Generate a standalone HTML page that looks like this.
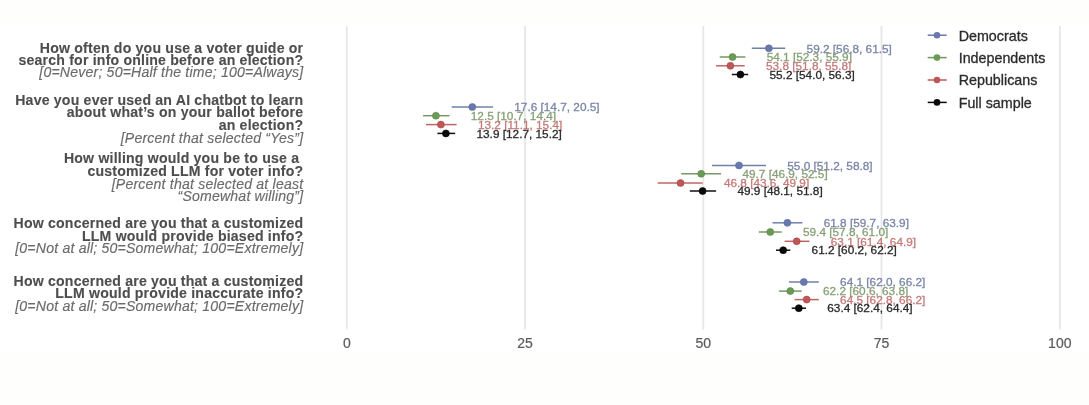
<!DOCTYPE html>
<html><head><meta charset="utf-8"><style>
html,body{margin:0;padding:0;background:#fefefd;}
svg{display:block;filter:blur(0.45px);}
text{font-family:"Liberation Sans",sans-serif;}
.q{font-size:14.1px;font-weight:bold;fill:#4e4e4e;stroke:#4e4e4e;stroke-width:0.12px;letter-spacing:0.2px;}
.s{font-size:14.1px;font-style:italic;fill:#6b6b6b;stroke:#6b6b6b;stroke-width:0.15px;letter-spacing:0.19px;}
.t{font-size:14px;fill:#5a5a5a;stroke:#5a5a5a;stroke-width:0.2px;}
.lg{font-size:14.3px;fill:#2b2b2b;stroke:#2b2b2b;stroke-width:0.3px;}
.d{font-size:11.8px;stroke-width:0.3px;}
</style></head><body>
<svg width="1089" height="405" viewBox="0 0 1089 405">
<rect x="0" y="0" width="1089" height="405" fill="#fefefd"/>
<rect x="0" y="24" width="1089" height="328" fill="#ffffff"/>

<line x1="346.8" y1="26" x2="346.8" y2="329.6" stroke="#e7e7e7" stroke-width="1.8"/>
<text class="t" x="346.8" y="348.2" text-anchor="middle">0</text>
<line x1="525.0" y1="26" x2="525.0" y2="329.6" stroke="#e7e7e7" stroke-width="1.8"/>
<text class="t" x="525.0" y="348.2" text-anchor="middle">25</text>
<line x1="703.3" y1="26" x2="703.3" y2="329.6" stroke="#e7e7e7" stroke-width="1.8"/>
<text class="t" x="703.3" y="348.2" text-anchor="middle">50</text>
<line x1="881.5" y1="26" x2="881.5" y2="329.6" stroke="#e7e7e7" stroke-width="1.8"/>
<text class="t" x="881.5" y="348.2" text-anchor="middle">75</text>
<line x1="1059.8" y1="26" x2="1059.8" y2="329.6" stroke="#e7e7e7" stroke-width="1.8"/>
<text class="t" x="1059.8" y="348.2" text-anchor="middle">100</text>
<line x1="751.8" y1="48.3" x2="785.3" y2="48.3" stroke="#7080aa" stroke-width="1.5"/>
<circle cx="768.9" cy="48.3" r="3.5" fill="#6878ad" stroke="#5b6b9c" stroke-width="0.6"/>
<text class="d" x="806.6" y="52.5" fill="#7b85a8" stroke="#7b85a8">59.2 [56.8, 61.5]</text>
<line x1="719.7" y1="57" x2="745.4" y2="57" stroke="#789866" stroke-width="1.5"/>
<circle cx="732.5" cy="57" r="3.5" fill="#6a9a55" stroke="#5b8a48" stroke-width="0.6"/>
<text class="d" x="766.7" y="61.2" fill="#87a177" stroke="#87a177">54.1 [52.3, 55.9]</text>
<line x1="716.1" y1="65.8" x2="744.7" y2="65.8" stroke="#bf6664" stroke-width="1.5"/>
<circle cx="730.4" cy="65.8" r="3.5" fill="#c05656" stroke="#a84848" stroke-width="0.6"/>
<text class="d" x="766.0" y="70.0" fill="#c57b79" stroke="#c57b79">53.8 [51.8, 55.8]</text>
<line x1="731.8" y1="74.5" x2="748.2" y2="74.5" stroke="#111111" stroke-width="1.5"/>
<circle cx="740.4" cy="74.5" r="3.5" fill="#0a0a0a" stroke="#000000" stroke-width="0.6"/>
<text class="d" x="769.5" y="78.7" fill="#2a2a2a" stroke="#2a2a2a">55.2 [54.0, 56.3]</text>
<line x1="451.6" y1="107" x2="493.0" y2="107" stroke="#7080aa" stroke-width="1.5"/>
<circle cx="472.3" cy="107" r="3.5" fill="#6878ad" stroke="#5b6b9c" stroke-width="0.6"/>
<text class="d" x="514.3" y="111.2" fill="#7b85a8" stroke="#7b85a8">17.6 [14.7, 20.5]</text>
<line x1="423.1" y1="115.7" x2="449.5" y2="115.7" stroke="#789866" stroke-width="1.5"/>
<circle cx="435.9" cy="115.7" r="3.5" fill="#6a9a55" stroke="#5b8a48" stroke-width="0.6"/>
<text class="d" x="470.8" y="119.9" fill="#87a177" stroke="#87a177">12.5 [10.7, 14.4]</text>
<line x1="425.9" y1="124.6" x2="456.6" y2="124.6" stroke="#bf6664" stroke-width="1.5"/>
<circle cx="440.9" cy="124.6" r="3.5" fill="#c05656" stroke="#a84848" stroke-width="0.6"/>
<text class="d" x="477.9" y="128.8" fill="#c57b79" stroke="#c57b79">13.2 [11.1, 15.4]</text>
<line x1="437.4" y1="133.4" x2="455.2" y2="133.4" stroke="#111111" stroke-width="1.5"/>
<circle cx="445.9" cy="133.4" r="3.5" fill="#0a0a0a" stroke="#000000" stroke-width="0.6"/>
<text class="d" x="476.5" y="137.6" fill="#2a2a2a" stroke="#2a2a2a">13.9 [12.7, 15.2]</text>
<line x1="711.9" y1="165.4" x2="766.0" y2="165.4" stroke="#7080aa" stroke-width="1.5"/>
<circle cx="739.0" cy="165.4" r="3.5" fill="#6878ad" stroke="#5b6b9c" stroke-width="0.6"/>
<text class="d" x="787.3" y="169.6" fill="#7b85a8" stroke="#7b85a8">55.0 [51.2, 58.8]</text>
<line x1="681.2" y1="173.8" x2="721.1" y2="173.8" stroke="#789866" stroke-width="1.5"/>
<circle cx="701.2" cy="173.8" r="3.5" fill="#6a9a55" stroke="#5b8a48" stroke-width="0.6"/>
<text class="d" x="742.4" y="178.0" fill="#87a177" stroke="#87a177">49.7 [46.9, 52.5]</text>
<line x1="657.7" y1="183" x2="702.6" y2="183" stroke="#bf6664" stroke-width="1.5"/>
<circle cx="680.5" cy="183" r="3.5" fill="#c05656" stroke="#a84848" stroke-width="0.6"/>
<text class="d" x="723.9" y="187.2" fill="#c57b79" stroke="#c57b79">46.8 [43.6, 49.9]</text>
<line x1="689.8" y1="191" x2="716.1" y2="191" stroke="#111111" stroke-width="1.5"/>
<circle cx="702.6" cy="191" r="3.5" fill="#0a0a0a" stroke="#000000" stroke-width="0.6"/>
<text class="d" x="737.4" y="195.2" fill="#2a2a2a" stroke="#2a2a2a">49.9 [48.1, 51.8]</text>
<line x1="772.5" y1="222.8" x2="802.4" y2="222.8" stroke="#7080aa" stroke-width="1.5"/>
<circle cx="787.4" cy="222.8" r="3.5" fill="#6878ad" stroke="#5b6b9c" stroke-width="0.6"/>
<text class="d" x="823.7" y="227.0" fill="#7b85a8" stroke="#7b85a8">61.8 [59.7, 63.9]</text>
<line x1="758.9" y1="232" x2="781.7" y2="232" stroke="#789866" stroke-width="1.5"/>
<circle cx="770.3" cy="232" r="3.5" fill="#6a9a55" stroke="#5b8a48" stroke-width="0.6"/>
<text class="d" x="803.0" y="236.2" fill="#87a177" stroke="#87a177">59.4 [57.8, 61.0]</text>
<line x1="784.6" y1="241.3" x2="809.5" y2="241.3" stroke="#bf6664" stroke-width="1.5"/>
<circle cx="796.7" cy="241.3" r="3.5" fill="#c05656" stroke="#a84848" stroke-width="0.6"/>
<text class="d" x="830.8" y="245.5" fill="#c57b79" stroke="#c57b79">63.1 [61.4, 64.9]</text>
<line x1="776.0" y1="250.2" x2="790.3" y2="250.2" stroke="#111111" stroke-width="1.5"/>
<circle cx="783.2" cy="250.2" r="3.5" fill="#0a0a0a" stroke="#000000" stroke-width="0.6"/>
<text class="d" x="811.6" y="254.4" fill="#2a2a2a" stroke="#2a2a2a">61.2 [60.2, 62.2]</text>
<line x1="788.9" y1="282" x2="818.8" y2="282" stroke="#7080aa" stroke-width="1.5"/>
<circle cx="803.8" cy="282" r="3.5" fill="#6878ad" stroke="#5b6b9c" stroke-width="0.6"/>
<text class="d" x="840.1" y="286.2" fill="#7b85a8" stroke="#7b85a8">64.1 [62.0, 66.2]</text>
<line x1="778.9" y1="291.1" x2="801.7" y2="291.1" stroke="#789866" stroke-width="1.5"/>
<circle cx="790.3" cy="291.1" r="3.5" fill="#6a9a55" stroke="#5b8a48" stroke-width="0.6"/>
<text class="d" x="823.0" y="295.3" fill="#87a177" stroke="#87a177">62.2 [60.6, 63.8]</text>
<line x1="794.6" y1="299.6" x2="818.8" y2="299.6" stroke="#bf6664" stroke-width="1.5"/>
<circle cx="806.7" cy="299.6" r="3.5" fill="#c05656" stroke="#a84848" stroke-width="0.6"/>
<text class="d" x="840.1" y="303.8" fill="#c57b79" stroke="#c57b79">64.5 [62.8, 66.2]</text>
<line x1="791.7" y1="308.2" x2="806.0" y2="308.2" stroke="#111111" stroke-width="1.5"/>
<circle cx="798.8" cy="308.2" r="3.5" fill="#0a0a0a" stroke="#000000" stroke-width="0.6"/>
<text class="d" x="827.3" y="312.4" fill="#2a2a2a" stroke="#2a2a2a">63.4 [62.4, 64.4]</text>
<text class="q" x="303.3" y="52.6" text-anchor="end" xml:space="preserve">How often do you use a voter guide or</text>
<text class="q" x="303.3" y="64.9" text-anchor="end" xml:space="preserve">search for info online before an election?</text>
<text class="s" x="303.3" y="77.4" text-anchor="end" xml:space="preserve">[0=Never; 50=Half the time; 100=Always]</text>
<text class="q" x="303.3" y="104.7" text-anchor="end" xml:space="preserve">Have you ever used an AI chatbot to learn</text>
<text class="q" x="303.3" y="117.0" text-anchor="end" xml:space="preserve">about what’s on your ballot before</text>
<text class="q" x="303.3" y="129.5" text-anchor="end" xml:space="preserve">an election?</text>
<text class="s" x="303.3" y="142.6" text-anchor="end" xml:space="preserve">[Percent that selected “Yes”]</text>
<text class="q" x="303.3" y="163.4" text-anchor="end" xml:space="preserve">How willing would you be to use a </text>
<text class="q" x="303.3" y="175.9" text-anchor="end" xml:space="preserve">customized LLM for voter info?</text>
<text class="s" x="303.3" y="188.5" text-anchor="end" xml:space="preserve">[Percent that selected at least</text>
<text class="s" x="303.3" y="200.6" text-anchor="end" xml:space="preserve">“Somewhat willing”]</text>
<text class="q" x="303.3" y="227.9" text-anchor="end" xml:space="preserve">How concerned are you that a customized</text>
<text class="q" x="303.3" y="240.5" text-anchor="end" xml:space="preserve">LLM would provide biased info?</text>
<text class="s" x="303.3" y="253.2" text-anchor="end" xml:space="preserve">[0=Not at all; 50=Somewhat; 100=Extremely]</text>
<text class="q" x="303.3" y="285.8" text-anchor="end" xml:space="preserve">How concerned are you that a customized</text>
<text class="q" x="303.3" y="298.0" text-anchor="end" xml:space="preserve">LLM would provide inaccurate info?</text>
<text class="s" x="303.3" y="310.5" text-anchor="end" xml:space="preserve">[0=Not at all; 50=Somewhat; 100=Extremely]</text>
<line x1="927.7" y1="35.2" x2="946.7" y2="35.2" stroke="#6878ad" stroke-width="1.5"/>
<circle cx="937" cy="35.2" r="3.3" fill="#6878ad"/>
<text class="lg" x="958.7" y="40.5">Democrats</text>
<line x1="927.7" y1="57.6" x2="946.7" y2="57.6" stroke="#6a9a55" stroke-width="1.5"/>
<circle cx="937" cy="57.6" r="3.3" fill="#6a9a55"/>
<text class="lg" x="958.7" y="62.9">Independents</text>
<line x1="927.7" y1="80.0" x2="946.7" y2="80.0" stroke="#c05656" stroke-width="1.5"/>
<circle cx="937" cy="80.0" r="3.3" fill="#c05656"/>
<text class="lg" x="958.7" y="85.3">Republicans</text>
<line x1="927.7" y1="102.4" x2="946.7" y2="102.4" stroke="#0a0a0a" stroke-width="1.5"/>
<circle cx="937" cy="102.4" r="3.3" fill="#0a0a0a"/>
<text class="lg" x="958.7" y="107.7">Full sample</text>
</svg></body></html>
